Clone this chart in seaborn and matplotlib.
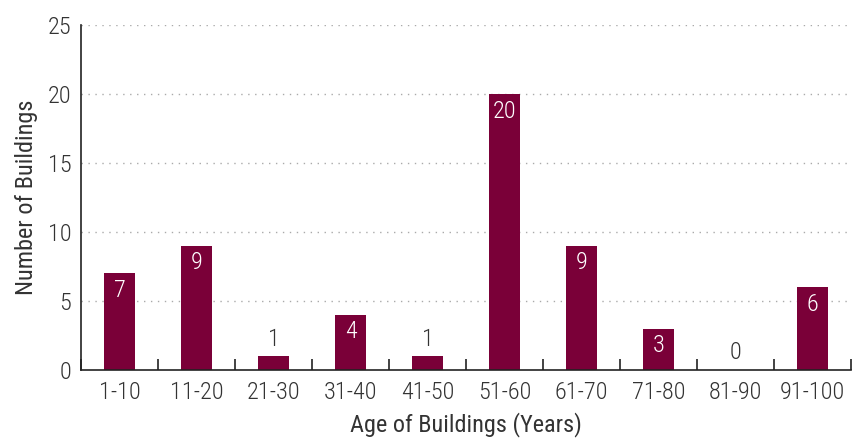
import matplotlib
matplotlib.use("Agg")
import matplotlib.pyplot as plt
import seaborn as sns
import pandas as pd
import numpy as np

age_groups = ["1-10", "11-20", "21-30", "31-40", "41-50", "51-60",
              "61-70", "71-80", "81-90", "91-100"]
building_counts = [7, 9, 1, 4, 1, 20, 9, 3, 0, 6]
y_ticks = [0, 5, 10, 15, 20, 25]

sns.set_theme(style="white")
plt.rcParams["font.family"] = ["Roboto Condensed", "Roboto", "DejaVu Sans"]
plt.rcParams["font.weight"] = "light"

bar_color = "#7a0038"
text_color = "#333333"
fs = 17.5

df = pd.DataFrame({"age": age_groups, "count": building_counts})

fig = plt.figure(figsize=(8.65, 4.45), dpi=100)
ax = fig.add_axes([0.0936, 0.1685, 0.8904, 0.7753])

sns.barplot(data=df, x="age", y="count", color=bar_color, width=0.4,
            saturation=1, linewidth=0, ax=ax)

ax.set_xlim(-0.5, len(age_groups) - 0.5)
ax.set_ylim(0, 25)
ax.set_yticks(y_ticks)
ax.yaxis.grid(True, linestyle=(0, (1, 4)), color="#aaaaaa", linewidth=1)
ax.set_axisbelow(True)
for line in ax.get_ygridlines()[:1]:
    line.set_visible(False)

for s in ["top", "right"]:
    ax.spines[s].set_visible(False)
for s in ["left", "bottom"]:
    ax.spines[s].set_color("#222222")
    ax.spines[s].set_linewidth(1.2)

# category boundary ticks pointing into the plot
ax.set_xticks(np.arange(-0.5, len(age_groups), 1.0), minor=True)
ax.tick_params(axis="x", which="minor", direction="in", length=8,
               width=1.2, color="#222222", bottom=True)
ax.tick_params(axis="x", which="major", length=0, pad=8,
               labelsize=fs, labelcolor=text_color)
ax.tick_params(axis="y", length=0, pad=7, labelsize=fs,
               labelcolor=text_color)

ax.set_xlabel("Age of Buildings (Years)", fontsize=fs, color=text_color,
              labelpad=6)
ax.set_ylabel("Number of Buildings", fontsize=fs, color=text_color,
              labelpad=7)

for i, v in enumerate(building_counts):
    if v >= 3:
        ax.annotate(str(v), (i, v), xytext=(0, -4), textcoords="offset points",
                    ha="center", va="top", color="white", fontsize=fs)
    else:
        ax.annotate(str(v), (i, v), xytext=(0, 4), textcoords="offset points",
                    ha="center", va="bottom", color=text_color, fontsize=fs)

fig.savefig("out.png", dpi=100)
